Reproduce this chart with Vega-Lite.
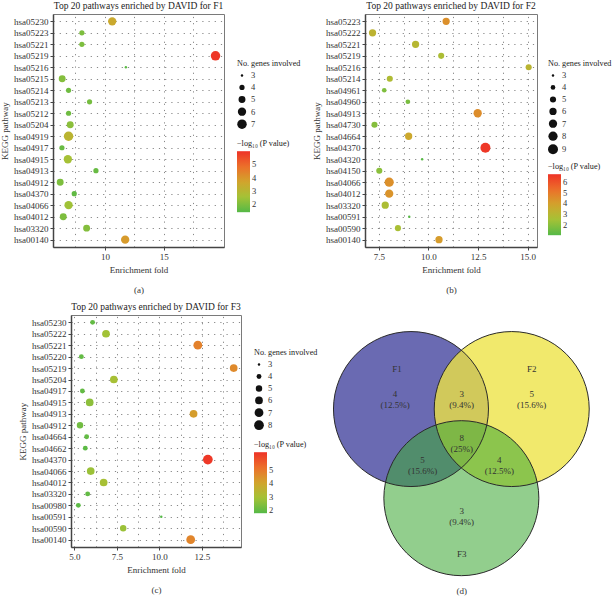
{
  "$schema": "https://vega.github.io/schema/vega-lite/v6.json",
  "padding": {"left": 0, "top": 0, "right": 0, "bottom": 0},
  "autosize": {"type": "pad"},
  "background": "white",
  "config": {
    "font": "Liberation Serif",
    "view": {"stroke": "#7a7a7a", "strokeWidth": 1},
    "axis": {
      "labelFont": "Liberation Serif", "titleFont": "Liberation Serif",
      "labelFontSize": 9, "titleFontSize": 9, "labelColor": "#333", "titleColor": "#333",
      "titleFontWeight": "normal", "domainColor": "#444", "domainWidth": 1.5,
      "tickColor": "#444", "tickSize": 3, "grid": true, "gridDash": [1.2, 5], "gridColor": "#888", "gridWidth": 1
    },
    "legend": {
      "labelFont": "Liberation Serif", "titleFont": "Liberation Serif",
      "titleFontWeight": "normal", "titleFontSize": 8.2, "labelFontSize": 8.5,
      "labelColor": "#333", "titleColor": "#222", "direction": "vertical",
      "rowPadding": 3, "symbolStrokeWidth": 0, "titlePadding": 3
    },
    "title": {"font": "Liberation Serif", "fontSize": 9.5, "fontWeight": "normal", "color": "#222", "anchor": "middle", "offset": 4}
  },
  "datasets": {
    "F1": [
      {"p": "hsa05230", "fold": 10.62, "genes": 6, "logp": 3.5},
      {"p": "hsa05223", "fold": 8.05, "genes": 4, "logp": 2.0},
      {"p": "hsa05221", "fold": 8.05, "genes": 4, "logp": 2.0},
      {"p": "hsa05219", "fold": 19.38, "genes": 7, "logp": 5.9},
      {"p": "hsa05216", "fold": 11.78, "genes": 3, "logp": 1.5},
      {"p": "hsa05215", "fold": 6.38, "genes": 5, "logp": 2.1},
      {"p": "hsa05214", "fold": 6.92, "genes": 4, "logp": 1.8},
      {"p": "hsa05213", "fold": 8.70, "genes": 4, "logp": 1.9},
      {"p": "hsa05212", "fold": 6.92, "genes": 4, "logp": 1.8},
      {"p": "hsa05204", "fold": 7.06, "genes": 5, "logp": 2.2},
      {"p": "hsa04919", "fold": 6.92, "genes": 7, "logp": 3.1},
      {"p": "hsa04917", "fold": 6.36, "genes": 4, "logp": 1.7},
      {"p": "hsa04915", "fold": 6.86, "genes": 6, "logp": 2.6},
      {"p": "hsa04913", "fold": 9.24, "genes": 4, "logp": 1.7},
      {"p": "hsa04912", "fold": 6.21, "genes": 5, "logp": 2.0},
      {"p": "hsa04370", "fold": 7.40, "genes": 4, "logp": 1.6},
      {"p": "hsa04066", "fold": 6.92, "genes": 6, "logp": 2.5},
      {"p": "hsa04012", "fold": 6.47, "genes": 5, "logp": 2.0},
      {"p": "hsa03320", "fold": 8.45, "genes": 5, "logp": 2.1},
      {"p": "hsa00140", "fold": 11.72, "genes": 6, "logp": 3.9}
    ],
    "F2": [
      {"p": "hsa05223", "fold": 10.89, "genes": 6, "logp": 4.4},
      {"p": "hsa05222", "fold": 7.18, "genes": 6, "logp": 3.2},
      {"p": "hsa05221", "fold": 9.35, "genes": 6, "logp": 3.0},
      {"p": "hsa05219", "fold": 10.64, "genes": 5, "logp": 2.7},
      {"p": "hsa05216", "fold": 15.05, "genes": 5, "logp": 3.1},
      {"p": "hsa05214", "fold": 8.05, "genes": 5, "logp": 2.8},
      {"p": "hsa04961", "fold": 7.77, "genes": 4, "logp": 1.8},
      {"p": "hsa04960", "fold": 8.96, "genes": 4, "logp": 1.7},
      {"p": "hsa04913", "fold": 12.48, "genes": 7, "logp": 4.5},
      {"p": "hsa04730", "fold": 7.28, "genes": 5, "logp": 1.9},
      {"p": "hsa04664", "fold": 9.0, "genes": 6, "logp": 3.7},
      {"p": "hsa04370", "fold": 12.87, "genes": 9, "logp": 6.6},
      {"p": "hsa04320", "fold": 9.68, "genes": 3, "logp": 1.1},
      {"p": "hsa04150", "fold": 7.52, "genes": 5, "logp": 2.0},
      {"p": "hsa04066", "fold": 8.02, "genes": 8, "logp": 4.4},
      {"p": "hsa04012", "fold": 8.02, "genes": 7, "logp": 4.3},
      {"p": "hsa03320", "fold": 7.82, "genes": 6, "logp": 2.7},
      {"p": "hsa00591", "fold": 9.03, "genes": 3, "logp": 1.1},
      {"p": "hsa00590", "fold": 8.46, "genes": 5, "logp": 2.6},
      {"p": "hsa00140", "fold": 10.53, "genes": 6, "logp": 4.1}
    ],
    "F3": [
      {"p": "hsa05230", "fold": 6.07, "genes": 4, "logp": 2.0},
      {"p": "hsa05222", "fold": 6.86, "genes": 6, "logp": 2.9},
      {"p": "hsa05221", "fold": 12.26, "genes": 7, "logp": 4.8},
      {"p": "hsa05220", "fold": 5.41, "genes": 4, "logp": 2.0},
      {"p": "hsa05219", "fold": 14.37, "genes": 6, "logp": 4.6},
      {"p": "hsa05204", "fold": 7.32, "genes": 6, "logp": 3.0},
      {"p": "hsa04917", "fold": 5.47, "genes": 4, "logp": 2.0},
      {"p": "hsa04915", "fold": 5.9, "genes": 6, "logp": 2.6},
      {"p": "hsa04913", "fold": 12.01, "genes": 6, "logp": 4.2},
      {"p": "hsa04912", "fold": 5.33, "genes": 5, "logp": 2.2},
      {"p": "hsa04664", "fold": 5.72, "genes": 4, "logp": 2.0},
      {"p": "hsa04662", "fold": 5.64, "genes": 4, "logp": 1.9},
      {"p": "hsa04370", "fold": 12.85, "genes": 8, "logp": 6.2},
      {"p": "hsa04066", "fold": 5.96, "genes": 6, "logp": 2.8},
      {"p": "hsa04012", "fold": 6.72, "genes": 6, "logp": 3.0},
      {"p": "hsa03320", "fold": 5.78, "genes": 4, "logp": 2.0},
      {"p": "hsa00980", "fold": 5.23, "genes": 4, "logp": 1.9},
      {"p": "hsa00591", "fold": 10.11, "genes": 3, "logp": 1.8},
      {"p": "hsa00590", "fold": 7.87, "genes": 5, "logp": 2.8},
      {"p": "hsa00140", "fold": 11.84, "genes": 7, "logp": 4.7}
    ],
    "sets": [
      {"set": "F1", "cx": -0.65, "cy": 0.58},
      {"set": "F2", "cx": 0.65, "cy": 0.58},
      {"set": "F3", "cx": 0.0, "cy": -0.57}
    ],
    "labels": [
      {"t": "F1", "x": -0.83, "y": 1.10},
      {"t": "4\n(12.5%)", "x": -0.855, "y": 0.78},
      {"t": "F2", "x": 0.907, "y": 1.10},
      {"t": "5\n(15.6%)", "x": 0.907, "y": 0.774},
      {"t": "3\n(9.4%)", "x": 0.004, "y": 0.774},
      {"t": "8\n(25%)", "x": 0.004, "y": 0.2},
      {"t": "5\n(15.6%)", "x": -0.5, "y": -0.074},
      {"t": "4\n(12.5%)", "x": 0.49, "y": -0.074},
      {"t": "3\n(9.4%)", "x": 0.004, "y": -0.73},
      {"t": "F3", "x": 0.004, "y": -1.29},
      {"t": "(d)", "x": 0.004, "y": -1.77}
    ]
  },
  "spacing": 6,
  "resolve": {"scale": {"x": "independent", "y": "independent", "color": "independent", "size": "independent", "opacity": "independent"}, "legend": {"color": "independent", "size": "independent"}},
  "vconcat": [
    {
      "spacing": 141,
      "bounds": "flush",
      "resolve": {"scale": {"x": "independent", "y": "independent", "color": "independent", "size": "independent"}, "legend": {"color": "independent", "size": "independent"}},
      "hconcat": [
        {
          "width": 171, "height": 233,
          "title": {"text": "Top 20 pathways enriched by DAVID for F1"},
          "data": {"name": "F1"},
          "mark": {"type": "point", "filled": true, "opacity": 1},
          "encoding": {
            "x": {"field": "fold", "type": "quantitative", "scale": {"domain": [5.6, 20.1], "nice": false, "zero": false},
              "axis": {"values": [7.5, 10, 12.5, 15, 17.5], "labelExpr": "datum.value % 5 === 0 ? format(datum.value, 'd') : ''", "tickOpacity": {"condition": {"test": "datum.value % 5 === 0", "value": 1}, "value": 0}, "title": ["Enrichment fold", "(a)"], "titleLineHeight": 20}},
            "y": {"field": "p", "type": "nominal", "sort": "descending", "scale": {"padding": 0.64}, "axis": {"title": "KEGG pathway"}},
            "size": {"field": "genes", "type": "quantitative", "scale": {"domain": [3, 7], "range": [6, 90], "zero": false},
              "legend": {"title": "No. genes involved", "orient": "none", "legendX": 184, "legendY": 46, "values": [3, 4, 5, 6, 7], "symbolFillColor": "#111", "symbolStrokeColor": "#111"}},
            "color": {"field": "logp", "type": "quantitative",
              "scale": {"domain": [1.42, 2.56, 3.7, 4.84, 5.98], "range": ["#55b947", "#a4c236", "#d2a42c", "#ec6f2a", "#ee3327"], "interpolate": "rgb"},
              "legend": {"title": "−log₁₀ (P value)", "orient": "none", "legendX": 184, "legendY": 126, "gradientLength": 61, "gradientThickness": 13, "values": [2, 3, 4, 5]}}
          }
        },
        {
          "width": 172, "height": 233,
          "title": {"text": "Top 20 pathways enriched by DAVID for F2"},
          "data": {"name": "F2"},
          "mark": {"type": "point", "filled": true, "opacity": 1},
          "encoding": {
            "x": {"field": "fold", "type": "quantitative", "scale": {"domain": [6.8, 15.47], "nice": false, "zero": false},
              "axis": {"values": [7.5, 8.75, 10, 11.25, 12.5, 13.75, 15], "labelExpr": "datum.value % 2.5 === 0 ? format(datum.value, '.1f') : ''", "tickOpacity": {"condition": {"test": "datum.value % 2.5 === 0", "value": 1}, "value": 0}, "title": ["Enrichment fold", "(b)"], "titleLineHeight": 20}},
            "y": {"field": "p", "type": "nominal", "sort": "descending", "scale": {"padding": 0.64}, "axis": {"title": "KEGG pathway"}},
            "size": {"field": "genes", "type": "quantitative", "scale": {"domain": [3, 9], "range": [6, 100], "zero": false},
              "legend": {"title": "No. genes involved", "orient": "none", "legendX": 183, "legendY": 46, "values": [3, 4, 5, 6, 7, 8, 9], "symbolFillColor": "#111", "symbolStrokeColor": "#111"}},
            "color": {"field": "logp", "type": "quantitative",
              "scale": {"domain": [1.05, 2.46, 3.875, 5.29, 6.7], "range": ["#55b947", "#a4c236", "#d2a42c", "#ec6f2a", "#ee3327"], "interpolate": "rgb"},
              "legend": {"title": "−log₁₀ (P value)", "orient": "none", "legendX": 183, "legendY": 149, "gradientLength": 61, "gradientThickness": 13, "values": [2, 3, 4, 5, 6]}}
          }
        }
      ]
    },
    {
      "spacing": 8,
      "bounds": "flush",
      "resolve": {"scale": {"x": "independent", "y": "independent", "color": "independent", "size": "independent", "opacity": "independent"}, "legend": {"color": "independent", "size": "independent"}},
      "hconcat": [
        {
          "width": 10, "height": 10,
          "view": {"stroke": null},
          "data": {"values": []},
          "mark": {"type": "point", "opacity": 0},
          "encoding": {}
        },
        {
          "width": 170, "height": 232,
          "title": {"text": "Top 20 pathways enriched by DAVID for F3"},
          "data": {"name": "F3"},
          "mark": {"type": "point", "filled": true, "opacity": 1},
          "encoding": {
            "x": {"field": "fold", "type": "quantitative", "scale": {"domain": [4.8, 14.8], "nice": false, "zero": false},
              "axis": {"values": [5, 6.25, 7.5, 8.75, 10, 11.25, 12.5, 13.75], "labelExpr": "datum.value % 2.5 === 0 ? format(datum.value, '.1f') : ''", "tickOpacity": {"condition": {"test": "datum.value % 2.5 === 0", "value": 1}, "value": 0}, "title": ["Enrichment fold", "(c)"], "titleLineHeight": 20}},
            "y": {"field": "p", "type": "nominal", "sort": "descending", "scale": {"padding": 0.64}, "axis": {"title": "KEGG pathway"}},
            "size": {"field": "genes", "type": "quantitative", "scale": {"domain": [3, 8], "range": [6, 95], "zero": false},
              "legend": {"title": "No. genes involved", "orient": "none", "legendX": 183, "legendY": 34, "values": [3, 4, 5, 6, 7, 8], "symbolFillColor": "#111", "symbolStrokeColor": "#111"}},
            "color": {"field": "logp", "type": "quantitative",
              "scale": {"domain": [1.8, 2.925, 4.05, 5.175, 6.3], "range": ["#55b947", "#a4c236", "#d2a42c", "#ec6f2a", "#ee3327"], "interpolate": "rgb"},
              "legend": {"title": "−log₁₀ (P value)", "orient": "none", "legendX": 183, "legendY": 126, "gradientLength": 61, "gradientThickness": 13, "values": [2, 3, 4, 5]}}
          }
        },
        {
          "width": 340, "height": 232,
          "view": {"stroke": null},
          "layer": [
            {
              "data": {"name": "sets"},
              "mark": {"type": "point", "filled": true, "shape": "circle", "size": 24025, "strokeWidth": 0},
              "encoding": {
                "x": {"field": "cx", "type": "quantitative", "scale": {"domain": [-2.740, 1.647], "nice": false, "zero": false}, "axis": null},
                "y": {"field": "cy", "type": "quantitative", "scale": {"domain": [-1.2, 1.7935], "nice": false, "zero": false}, "axis": null},
                "color": {"field": "set", "type": "nominal", "scale": {"domain": ["F1", "F2", "F3"], "range": ["#6a6ab2", "#ede343", "#3fa836"]}, "legend": null},
                "opacity": {"field": "set", "type": "nominal", "scale": {"domain": ["F1", "F2", "F3"], "range": [1, 0.57, 0.65]}, "legend": null}
              }
            },
            {
              "data": {"name": "sets"},
              "mark": {"type": "point", "filled": false, "shape": "circle", "size": 24025, "stroke": "#2a2a2a", "strokeWidth": 1, "opacity": 1},
              "encoding": {
                "x": {"field": "cx", "type": "quantitative"},
                "y": {"field": "cy", "type": "quantitative"}
              }
            },
            {
              "data": {"name": "labels"},
              "mark": {"type": "text", "font": "Liberation Serif", "fontSize": 9, "lineBreak": "\n", "lineHeight": 11, "color": "#333", "baseline": "middle", "align": "center"},
              "encoding": {
                "x": {"field": "x", "type": "quantitative"},
                "y": {"field": "y", "type": "quantitative"},
                "text": {"field": "t", "type": "nominal"}
              }
            }
          ]
        }
      ]
    }
  ]
}
